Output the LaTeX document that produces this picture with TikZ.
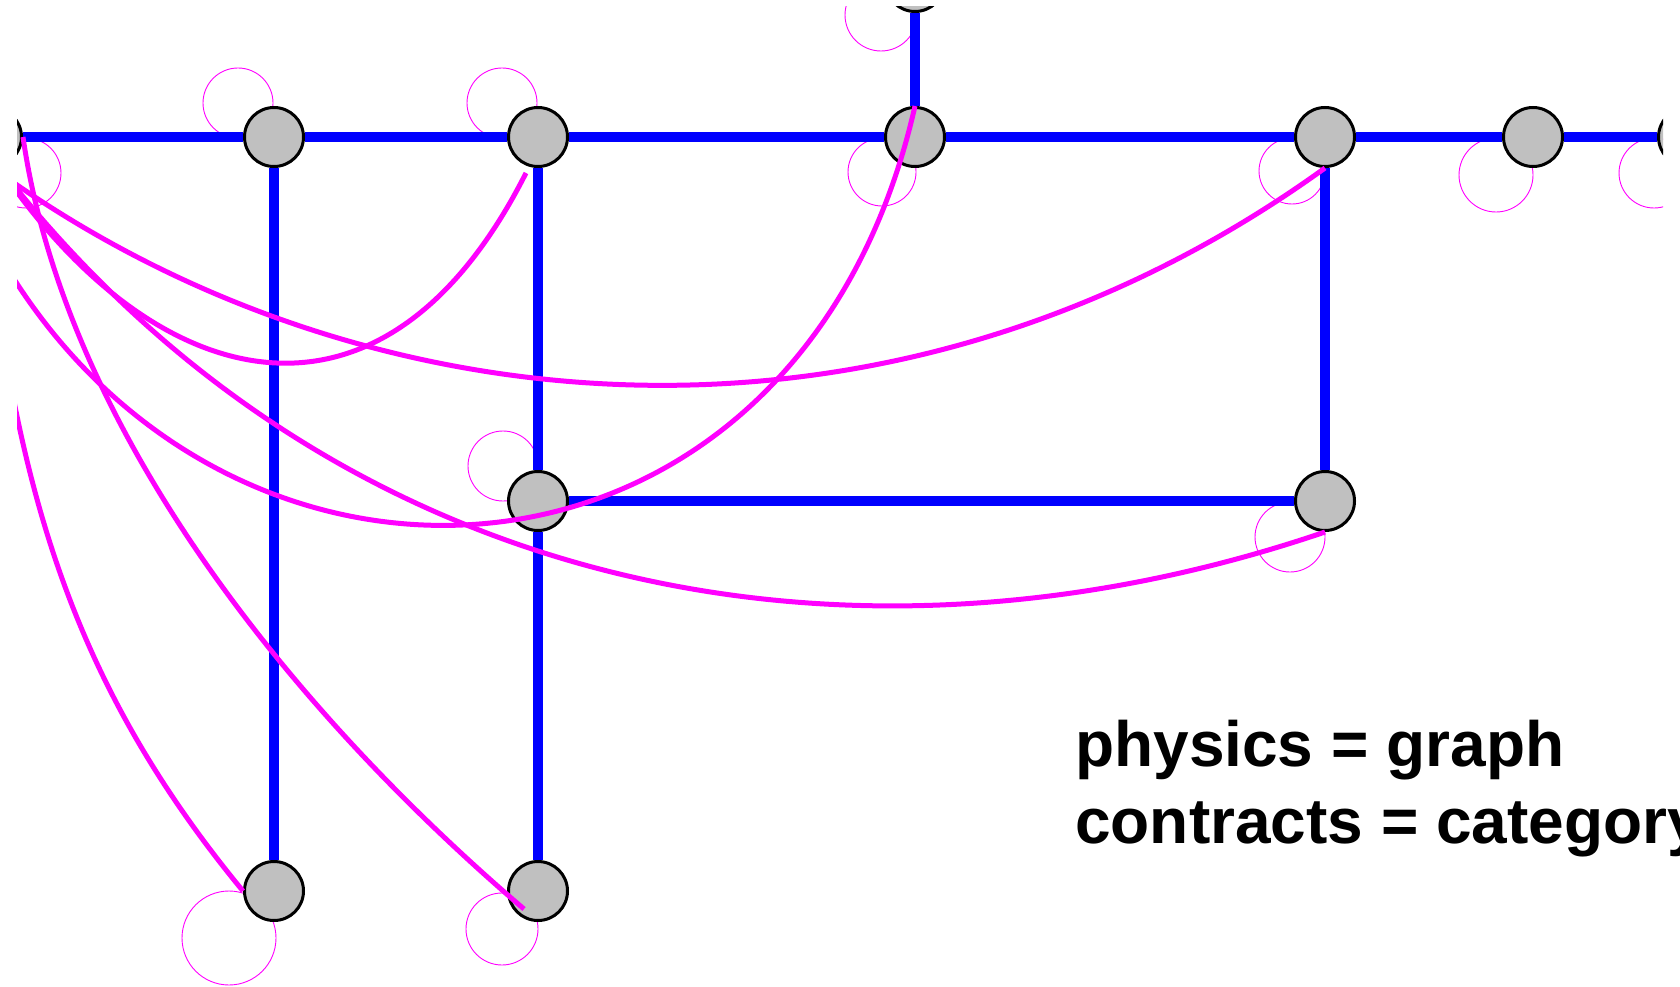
\documentclass[tikz,border=0pt]{standalone}
\usepackage{fontspec}
\newfontfamily\labfont{Liberation Sans}
\usetikzlibrary{calc}
\definecolor{nodegray}{RGB}{192,192,192}
\definecolor{edgeblue}{RGB}{0,0,255}
\definecolor{curvemag}{RGB}{255,0,255}
\begin{document}
\begin{tikzpicture}[x=1pt,y=-1pt,
  vtx/.style={circle, draw=black, line width=3pt, fill=nodegray, minimum size=59pt, inner sep=0pt},
  blueedge/.style={draw=edgeblue, line width=9.5pt},
  selfloop/.style={draw=curvemag, line width=0.9pt},
  magcurve/.style={draw=curvemag, line width=5pt},
  lbl/.style={font=\labfont\bfseries\fontsize{64}{77}\selectfont, inner sep=0pt, anchor=base west}]
\useasboundingbox (0,0) rectangle (1680,987);
\begin{scope}
\clip (17,7) rectangle (1663,987);
% node positions
\coordinate (pL) at (-8,137);
\coordinate (pA) at (274,137);
\coordinate (pB) at (538,137);
\coordinate (pC) at (915,137);
\coordinate (pD) at (1325,137);
\coordinate (pE) at (1533,137);
\coordinate (pF) at (1688,137);
\coordinate (pT) at (915,-18);
\coordinate (pM) at (538,501);
\coordinate (pN) at (1325,501);
\coordinate (pG) at (274,891);
\coordinate (pH) at (538,891);
% self loops
\draw[selfloop] (pL) ++(34,36) circle[radius=35pt];
\draw[selfloop] (pA) ++(-36,-34) circle[radius=35pt];
\draw[selfloop] (pB) ++(-36,-34) circle[radius=35pt];
\draw[selfloop] (pT) ++(-34,33) circle[radius=36pt];
\draw[selfloop] (pC) ++(-33,35) circle[radius=34pt];
\draw[selfloop] (pD) ++(-33,34) circle[radius=33pt];
\draw[selfloop] (pE) ++(-37,38) circle[radius=37pt];
\draw[selfloop] (pF) ++(-34,36) circle[radius=35pt];
\draw[selfloop] (pM) ++(-35,-35) circle[radius=35pt];
\draw[selfloop] (pN) ++(-35,36) circle[radius=35pt];
\draw[selfloop] (pG) ++(-45,47) circle[radius=47pt];
\draw[selfloop] (pH) ++(-36,38) circle[radius=36pt];
% nodes
\node[vtx] (L) at (pL) {};
\node[vtx] (A) at (pA) {};
\node[vtx] (B) at (pB) {};
\node[vtx] (C) at (pC) {};
\node[vtx] (D) at (pD) {};
\node[vtx] (E) at (pE) {};
\node[vtx] (F) at (pF) {};
\node[vtx] (T) at (pT) {};
\node[vtx] (M) at (pM) {};
\node[vtx] (N) at (pN) {};
\node[vtx] (G) at (pG) {};
\node[vtx] (H) at (pH) {};
% blue edges
\draw[blueedge] (L) -- (A);
\draw[blueedge] (A) -- (B);
\draw[blueedge] (B) -- (C);
\draw[blueedge] (C) -- (D);
\draw[blueedge] (D) -- (E);
\draw[blueedge] (E) -- (F);
\draw[blueedge] (T) -- (C);
\draw[blueedge] (A) -- (G);
\draw[blueedge] (B) -- (M);
\draw[blueedge] (M) -- (H);
\draw[blueedge] (D) -- (N);
\draw[blueedge] (M) -- (N);
% off-picture ends
\coordinate (w1) at (0,168);
\coordinate (w2) at (0,173);
\coordinate (w3) at (0,256);
\coordinate (w5) at (9,375);
% magenta curves
\draw[magcurve] (w1) .. controls (150,390) and (380,462) .. ($(B)+(-12,36)$);
\draw[magcurve] (w2) .. controls (360,431) and (890,482) .. (D.south);
\draw[magcurve] (w3) .. controls (230,653) and (799,618) .. (C.north);
\draw[magcurve] (w1) .. controls (329,590) and (840,697) .. (N.south);
\draw[magcurve] (w5) .. controls (46,579) and (112,732) .. (G.west);
\draw[magcurve] (L.east) .. controls (66,435) and (299,717) .. ($(H)+(-14,18)$);
\end{scope}
\node[lbl] (t1) at (1075,766) {physics = graph};
\node[lbl] (t2) at (1075,843) {contracts = category};
\end{tikzpicture}
\end{document}
